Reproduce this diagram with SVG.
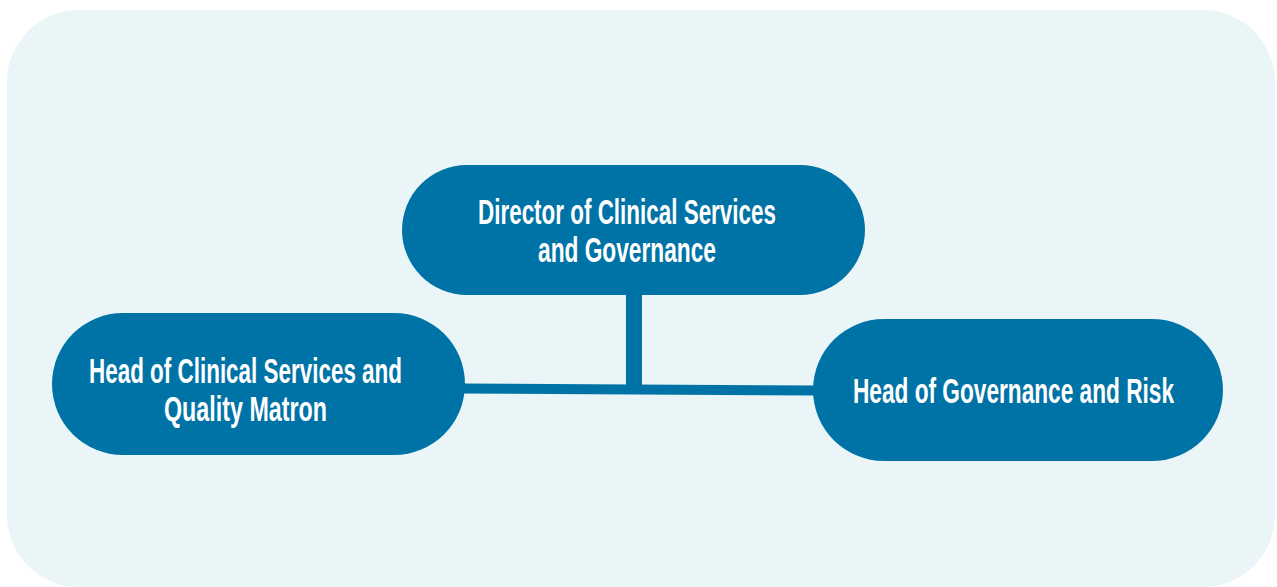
<svg xmlns="http://www.w3.org/2000/svg" width="1277" height="587" viewBox="0 0 1277 587">
<style>
.node{fill:#0073A6}
.lbl{fill:#FFFFFF;font-family:"Liberation Sans Narrow","Liberation Sans",Arial,sans-serif;font-weight:bold;font-size:35px;text-anchor:middle}
.conn{stroke:#0073A6;fill:none}
</style>
<rect x="7" y="10" width="1268" height="577" rx="72" ry="72" fill="#EAF5F8"/>
<g id="connectors">
<line class="conn" x1="634" y1="294" x2="634" y2="386" stroke-width="16"/>
<line class="conn" x1="460" y1="388.5" x2="818" y2="390.5" stroke-width="10"/>
</g>
<g id="director">
<rect class="node" x="402" y="165" width="463" height="130" rx="65" ry="65"/>
<text class="lbl" x="627" y="224" textLength="298" lengthAdjust="spacingAndGlyphs">Director of Clinical Services</text>
<text class="lbl" x="627" y="262" textLength="178" lengthAdjust="spacingAndGlyphs">and Governance</text>
</g>
<g id="head-clinical">
<rect class="node" x="52" y="313" width="413" height="142" rx="71" ry="71"/>
<text class="lbl" x="245.5" y="383" textLength="313" lengthAdjust="spacingAndGlyphs">Head of Clinical Services and</text>
<text class="lbl" x="245.5" y="421" textLength="163" lengthAdjust="spacingAndGlyphs">Quality Matron</text>
</g>
<g id="head-governance">
<rect class="node" x="813" y="319" width="410" height="142" rx="71" ry="71"/>
<text class="lbl" x="1013.5" y="403" textLength="321" lengthAdjust="spacingAndGlyphs">Head of Governance and Risk</text>
</g>
</svg>
